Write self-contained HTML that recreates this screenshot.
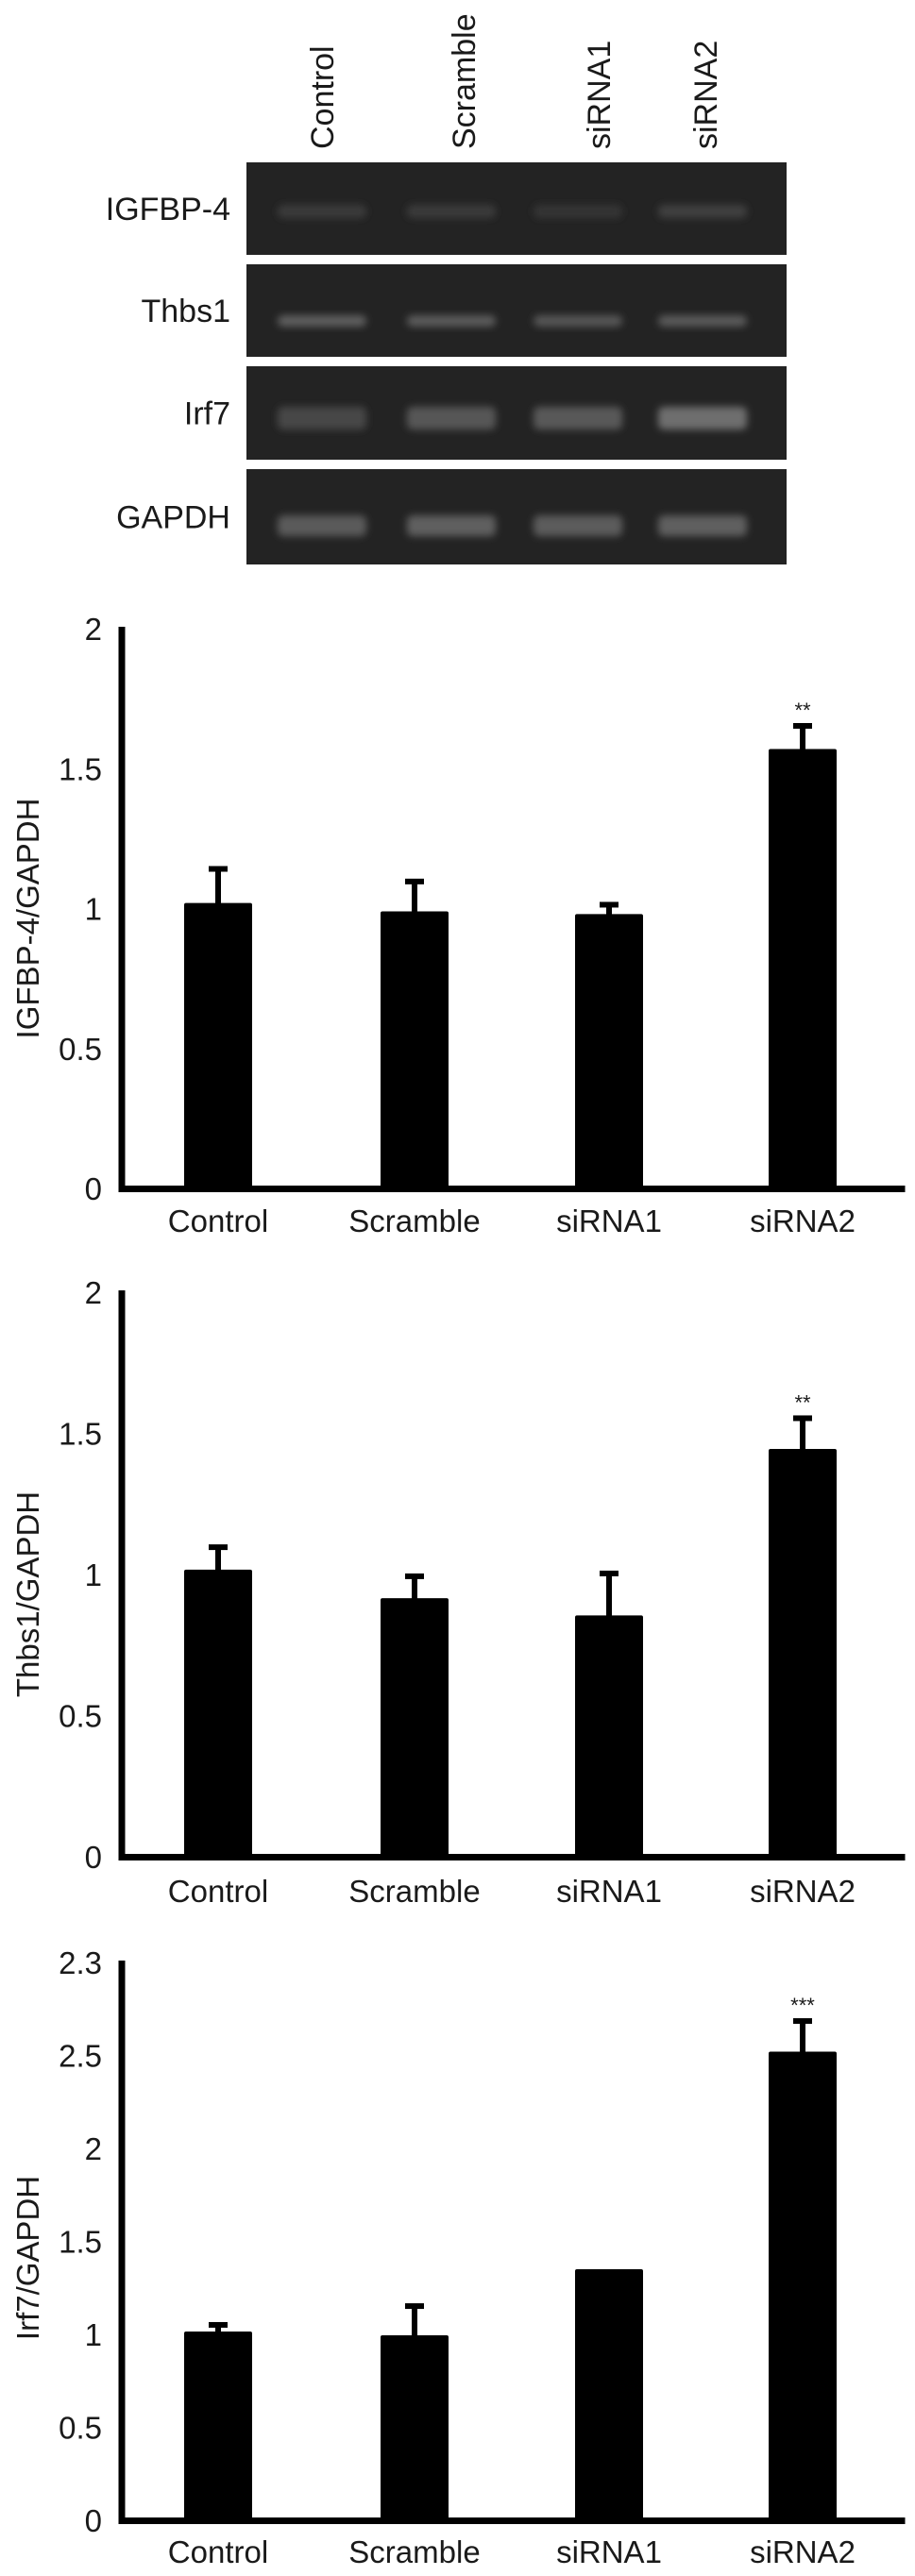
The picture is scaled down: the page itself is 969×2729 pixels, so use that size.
<!DOCTYPE html>
<html><head><meta charset="utf-8">
<style>
html,body{margin:0;padding:0;background:#fff;}
svg{display:block;}
text{font-family:"Liberation Sans",Arial,sans-serif;fill:#1a1a1a;}
</style></head>
<body>
<svg id="fig" width="969" height="2729" viewBox="0 0 969 2729" xmlns="http://www.w3.org/2000/svg">
<defs>
<filter id="blur" x="-20%" y="-50%" width="140%" height="200%"><feGaussianBlur stdDeviation="4"/></filter>
</defs>
<g id="gel"></g>
<g id="charts"></g>
</svg>
<script>
// ---------- data ----------
const categories = ["Control", "Scramble", "siRNA1", "siRNA2"];
const igfbpValues = [1.02, 0.99, 0.98, 1.57];
const igfbpErrors = [1.145, 1.10, 1.017, 1.656];
const thbsValues = [1.017, 0.916, 0.855, 1.445];
const thbsErrors = [1.10, 0.997, 1.007, 1.557];
const irfValues = [1.015, 0.995, 1.35, 2.52];
const irfErrors = [1.056, 1.157, 1.35, 2.69];
const ticks2 = [0, 0.5, 1, 1.5, 2];
const tickLabels2 = ["0", "0.5", "1", "1.5", "2"];
const ticks3 = [0, 0.5, 1, 1.5, 2, 2.5, 3];
const tickLabels3 = ["0", "0.5", "1", "1.5", "2", "2.5", "2.3"];
const stars = ["", "", "", "**"];
const starsIrf = ["", "", "", "***"];
const gelRows = ["IGFBP-4", "Thbs1", "Irf7", "GAPDH"];

const NS = "http://www.w3.org/2000/svg";
function mk(tag, attrs, parent) {
  const e = document.createElementNS(NS, tag);
  for (const k in attrs) e.setAttribute(k, attrs[k]);
  parent.appendChild(e);
  return e;
}

// ---------- gel ----------
const gel = document.getElementById("gel");
const laneX = [341, 491, 634, 747];
const bandX = [341, 478, 612, 744];
const rowTop = [172, 280, 388, 497];
const rowH = [98, 98, 99, 101];
const bandSpec = [
  {dy: 52, h: 14, c: ["#3a3a3a", "#3b3b3b", "#363636", "#414141"]},
  {dy: 60, h: 12, c: ["#5e5e5e", "#5c5c5c", "#575757", "#5a5a5a"]},
  {dy: 55, h: 24, c: ["#474747", "#575757", "#585858", "#6e6e6e"]},
  {dy: 60, h: 22, c: ["#5a5a5a", "#5e5e5e", "#5c5c5c", "#5e5e5e"]}
];
categories.forEach((c, i) => {
  const t = mk("text", {x: 0, y: 0, "font-size": 34, "text-anchor": "start",
    transform: `translate(${laneX[i] + 12},158) rotate(-90)`}, gel);
  
  
  t.textContent = c;
});
gelRows.forEach((r, j) => {
  const p = mk("rect", {x: 261, y: rowTop[j], width: 572, height: rowH[j], fill: "#232323"}, gel);
  
  
  bandX.forEach((bx, i) => {
    const b = mk("rect", {x: bx - 47, y: rowTop[j] + bandSpec[j].dy - bandSpec[j].h / 2, width: 94, height: bandSpec[j].h,
      rx: 6, fill: bandSpec[j].c[i], filter: "url(#blur)"}, gel);
    
    
  });
  const l = mk("text", {x: 244, y: rowTop[j] + rowH[j] / 2 + 12, "font-size": 34, "text-anchor": "end"}, gel);
  
  
  l.textContent = r;
});

// ---------- charts ----------
const charts = document.getElementById("charts");
const barCenters = [231, 439, 645, 850];
const barW = 72;
const axisX = 129;
function drawChart(cfg) {
  const g = mk("g", {}, charts);
  
  
  const yMax = cfg.ticks[cfg.ticks.length - 1];
  const y = v => cfg.y0 - (v / yMax) * (cfg.y0 - cfg.yTop);
  // bars
  cfg.values.forEach((v, i) => {
    const cx = barCenters[i];
    const e = cfg.errors[i];
    if (e > v) {
      const st = mk("rect", {x: cx - 3, y: y(e), width: 6, height: y(v) - y(e) + 2, fill: "#000"}, g);
      
      
      const cap = mk("rect", {x: cx - 10, y: y(e) - 2, width: 20, height: 6, fill: "#000"}, g);
      
      
    }
    const b = mk("rect", {x: cx - barW / 2, y: y(v), width: barW, height: cfg.y0 - y(v), rx: 2, fill: "#000"}, g);
    
    
    if (cfg.stars[i]) {
      const s = mk("text", {x: cx, y: y(e) - 8, "font-size": 22, "text-anchor": "middle"}, g);
      
      
      s.textContent = cfg.stars[i];
    }
  });
  // axes
  const ya = mk("rect", {x: axisX - 3.5, y: cfg.yTop - 2, width: 7, height: cfg.y0 - cfg.yTop + 6, fill: "#000"}, g);
  
  
  const xa = mk("rect", {x: axisX - 3.5, y: cfg.y0 - 3, width: 962 - axisX, height: 7, fill: "#000"}, g);
  
  
  cfg.ticks.forEach((t, k) => {
    const tl = mk("text", {x: 108, y: y(t) + 12, "font-size": 33, "text-anchor": "end"}, g);
    
    
    tl.textContent = cfg.tickLabels[k];
  });
  categories.forEach((c, i) => {
    const xl = mk("text", {x: barCenters[i], y: cfg.y0 + cfg.labelOff, "font-size": 33, "text-anchor": "middle"}, g);
    
    
    xl.textContent = c;
  });
  const tt = mk("text", {x: 0, y: 0, "font-size": 33, "text-anchor": "middle",
    transform: `translate(41,${cfg.titleY}) rotate(-90)`}, g);
  
  
  tt.textContent = cfg.title;
}
drawChart({name: "igfbp4-chart", values: igfbpValues, errors: igfbpErrors, ticks: ticks2, tickLabels: tickLabels2,
  stars: stars, y0: 1259, yTop: 666, title: "IGFBP-4/GAPDH", titleY: 973, labelOff: 46});
drawChart({name: "thbs1-chart", values: thbsValues, errors: thbsErrors, ticks: ticks2, tickLabels: tickLabels2,
  stars: stars, y0: 1967, yTop: 1369, title: "Thbs1/GAPDH", titleY: 1689, labelOff: 48});
drawChart({name: "irf7-chart", values: irfValues, errors: irfErrors, ticks: ticks3, tickLabels: tickLabels3,
  stars: starsIrf, y0: 2670, yTop: 2079, title: "Irf7/GAPDH", titleY: 2392, labelOff: 45});
</script>
</body></html>
